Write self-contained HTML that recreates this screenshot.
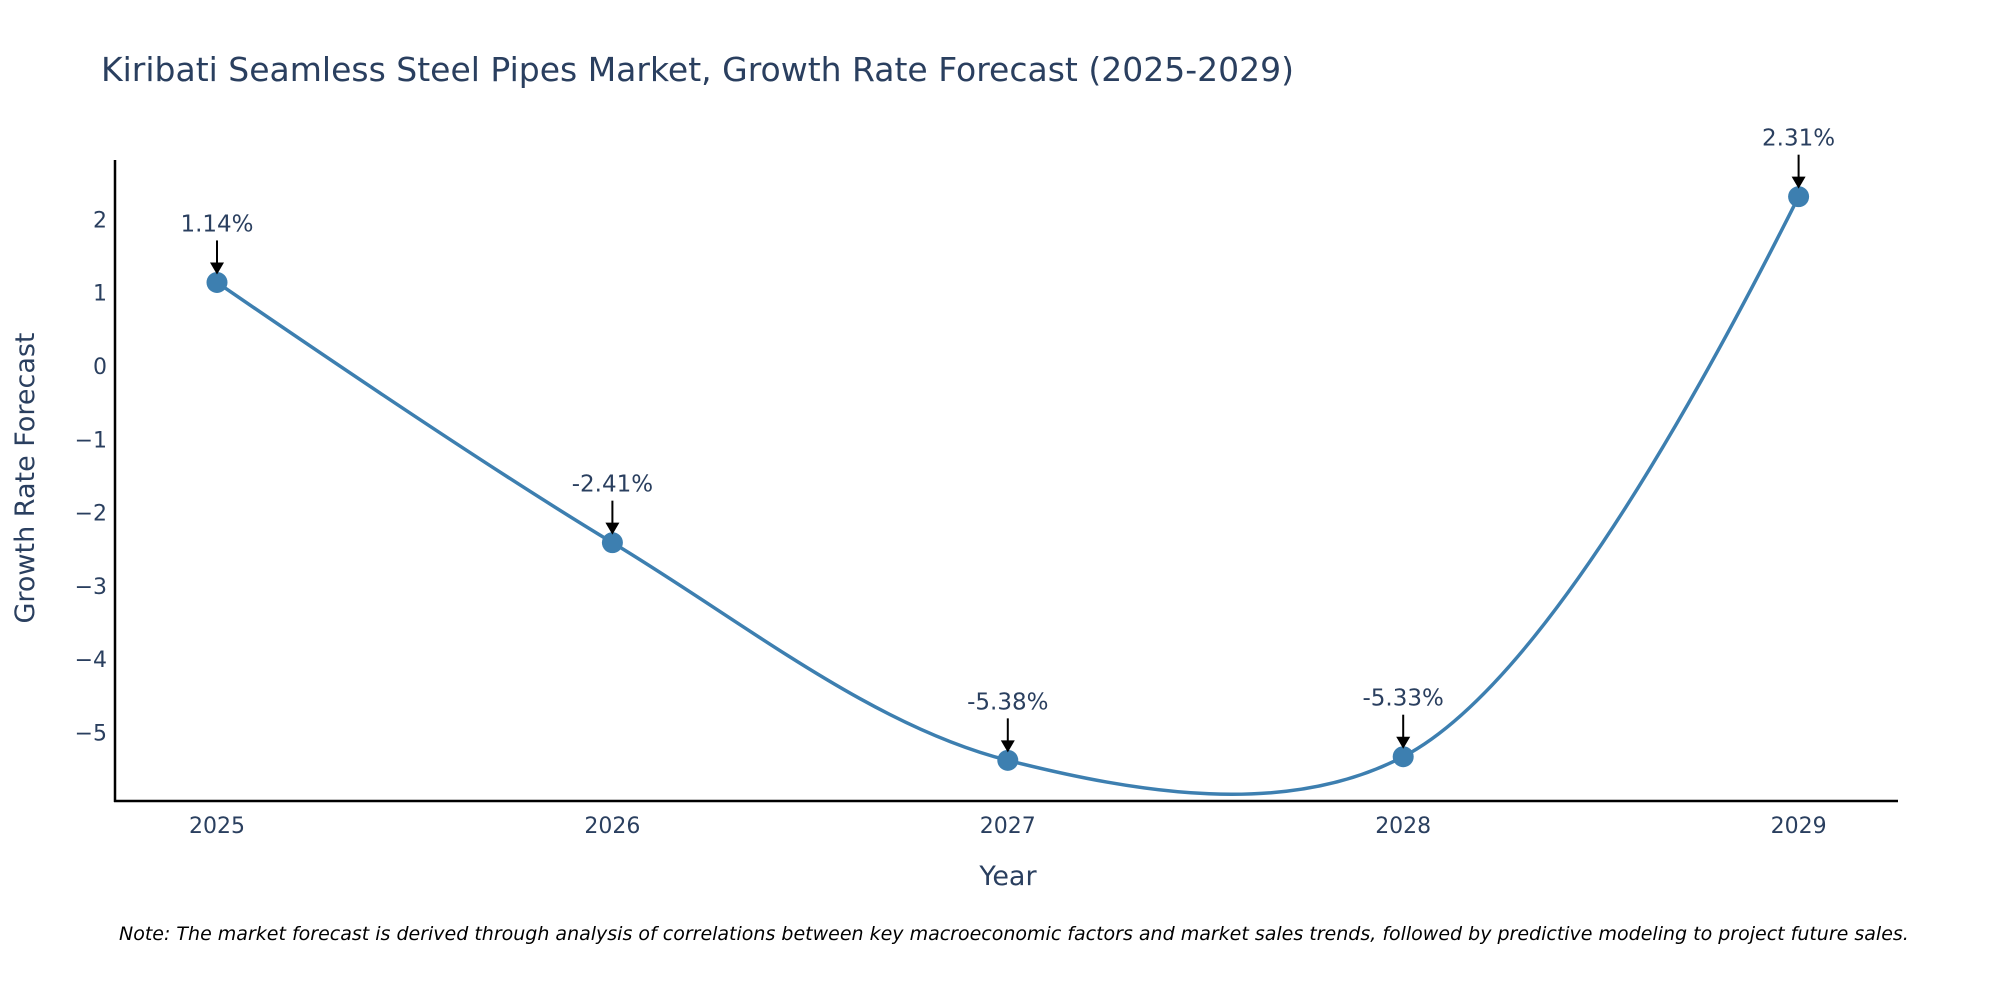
<!DOCTYPE html>
<html><head><meta charset="utf-8"><style>
body{margin:0;background:#fff;}
svg{display:block;font-family:"DejaVu Sans","Liberation Sans",sans-serif;}
</style></head><body>
<svg id="chart" width="2000" height="1000" viewBox="0 0 2000 1000">
<text x="101" y="81" font-size="33" fill="#2a3f5f">Kiribati Seamless Steel Pipes Market, Growth Rate Forecast (2025-2029)</text>
<g id="yticks"></g>
<g id="xticks"></g>
<line x1="115" y1="160" x2="115" y2="802" stroke="#000" stroke-width="2.5"/>
<line x1="114" y1="801" x2="1898" y2="801" stroke="#000" stroke-width="2.5"/>
<path id="line" fill="none" stroke="#3d7fb0" stroke-width="3.5"/>
<g id="points"></g>
<g id="annos"></g>
<text transform="translate(34,478) rotate(-90)" text-anchor="middle" font-size="27" fill="#2a3f5f">Growth Rate Forecast</text>
<text x="1008" y="885" text-anchor="middle" font-size="27" fill="#2a3f5f">Year</text>
<text x="119" y="940" font-size="19" font-style="italic" fill="#000">Note: The market forecast is derived through analysis of correlations between key macroeconomic factors and market sales trends, followed by predictive modeling to project future sales.</text>
</svg>
<script>
const years=["2025","2026","2027","2028","2029"];
const values=[1.14,-2.41,-5.38,-5.33,2.31];
const labels=["1.14%","-2.41%","-5.38%","-5.33%","2.31%"];
const yTickValues=[-5,-4,-3,-2,-1,0,1,2];
const NS="http://www.w3.org/2000/svg";
function xs(i){return 217+i*395.4;}
function ys(v){return 366-v*73.3;}
function mk(tag,attrs,parent){const e=document.createElementNS(NS,tag);for(const k in attrs)e.setAttribute(k,attrs[k]);parent.appendChild(e);return e;}
const yt=document.getElementById('yticks');
yTickValues.forEach(v=>{
  const t=mk('text',{x:107,y:ys(v)+8,'text-anchor':'end','font-size':22,fill:'#2a3f5f'},yt);
  
  
  t.textContent=v<0?'\u2212'+Math.abs(v):String(v);
});
const xt=document.getElementById('xticks');
years.forEach((y,i)=>{
  const t=mk('text',{x:xs(i),y:833,'text-anchor':'middle','font-size':22,fill:'#2a3f5f'},xt);
  
  
  t.textContent=y;
});
const pts=values.map((v,i)=>[xs(i),ys(v)]);
function tangent(p0,p1,p2){
  const d1x=p0[0]-p1[0],d1y=p0[1]-p1[1],d2x=p2[0]-p1[0],d2y=p2[1]-p1[1];
  const d1a=Math.pow(d1x*d1x+d1y*d1y,0.25),d2a=Math.pow(d2x*d2x+d2y*d2y,0.25);
  const nx=(d2a*d2a*d1x-d1a*d1a*d2x),ny=(d2a*d2a*d1y-d1a*d1a*d2y);
  const den1=3*d2a*(d1a+d2a),den2=3*d1a*(d1a+d2a);
  return [[p1[0]+nx/den1,p1[1]+ny/den1],[p1[0]-nx/den2,p1[1]-ny/den2]];
}
const tg=[];for(let i=1;i<pts.length-1;i++)tg.push(tangent(pts[i-1],pts[i],pts[i+1]));
const P=p=>p[0].toFixed(2)+','+p[1].toFixed(2);
let d='M'+P(pts[0])+'Q'+P(tg[0][0])+' '+P(pts[1]);
for(let i=2;i<pts.length-1;i++)d+='C'+P(tg[i-2][1])+' '+P(tg[i-1][0])+' '+P(pts[i]);
d+='Q'+P(tg[pts.length-3][1])+' '+P(pts[pts.length-1]);
document.getElementById('line').setAttribute('d',d);
const pg=document.getElementById('points'),ag=document.getElementById('annos');
pts.forEach((p,i)=>{
  const c=mk('circle',{cx:p[0],cy:p[1],r:10.5,fill:'#3d7fb0'},pg);
  
  
  const l=mk('line',{x1:p[0],y1:p[1]-42,x2:p[0],y2:p[1]-18,stroke:'#000','stroke-width':2},ag);
  
  
  const h=mk('path',{d:`M${p[0]-7},${p[1]-20} L${p[0]+7},${p[1]-20} L${p[0]},${p[1]-8} Z`,fill:'#000'},ag);
  
  
  const t=mk('text',{x:p[0],y:p[1]-51,'text-anchor':'middle','font-size':23,fill:'#2a3f5f'},ag);
  
  
  t.textContent=labels[i];
});
</script>
</body></html>
